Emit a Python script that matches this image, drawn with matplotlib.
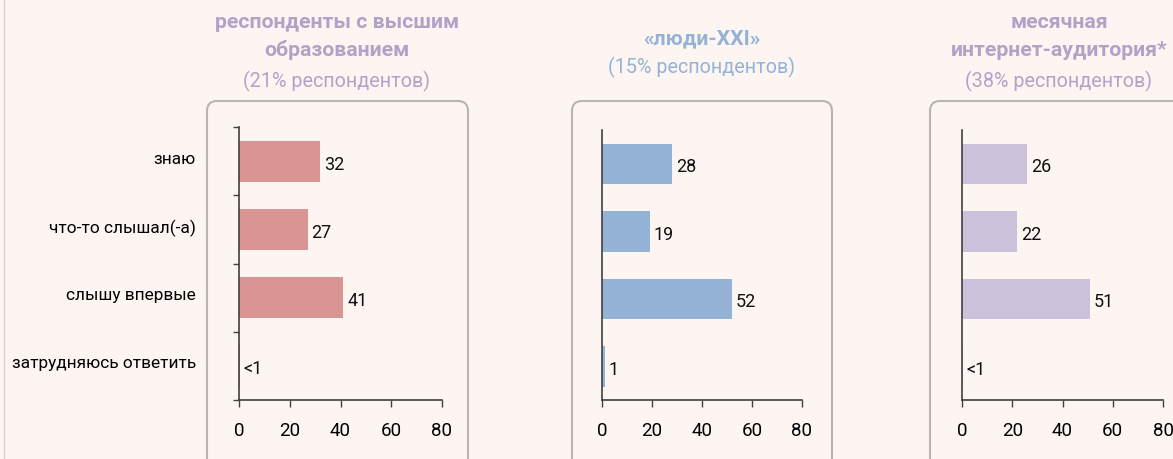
import matplotlib.pyplot as plt
from matplotlib.patches import FancyBboxPatch

plt.rcParams['font.family'] = ['Roboto', 'DejaVu Sans']

categories = ["знаю", "что-то слышал(-а)", "слышу впервые", "затрудняюсь ответить"]

higher_edu = [32, 27, 41, 0.3]
higher_edu_labels = ["32", "27", "41", "<1"]

people_xxi = [28, 19, 52, 1]
people_xxi_labels = ["28", "19", "52", "1"]

internet = [26, 22, 51, 0.3]
internet_labels = ["26", "22", "51", "<1"]

titles = ["респонденты с высшим\nобразованием", "«люди-XXI»", "месячная\nинтернет-аудитория*"]
subtitles = ["(21% респондентов)", "(15% респондентов)", "(38% респондентов)"]
xticks = [0, 20, 40, 60, 80]

W, H = 1173, 459
bg = "#fdf5f2"
bar_colors = ["#d99594", "#95b3d7", "#ccc1da"]
title_colors = ["#b3a2c7", "#95b3d7", "#b3a2c7"]

fig = plt.figure(figsize=(W / 100, H / 100), dpi=100)
fig.patch.set_facecolor(bg)

# background layer in pixel coordinates
bgax = fig.add_axes([0, 0, 1, 1], zorder=0)
bgax.set_xlim(0, W)
bgax.set_ylim(H, 0)
bgax.axis("off")
bgax.plot([4, 4], [0, H], color="#d8d0d0", lw=1)

# (box_left, box_right, axes_left, axes_right, axes_top, title_center)
panels = [
    (207, 468, 239, 442, 127, 337),
    (572, 832, 602, 802, 130, 702),
    (930, 1190, 962, 1163, 130, 1059),
]
axes_bottom = 400

data = [(higher_edu, higher_edu_labels), (people_xxi, people_xxi_labels), (internet, internet_labels)]

for i, (bl, br, al, ar, at, tc) in enumerate(panels):
    box = FancyBboxPatch((bl, 101), br - bl, 380, boxstyle="round,pad=0,rounding_size=10",
                         fc="none", ec="#b8b4b4", lw=1.5)
    bgax.add_patch(box)

    nlines = titles[i].count("\n") + 1
    if nlines == 2:
        first, second = titles[i].split("\n")
        bgax.text(tc, 23, first, ha="center", va="center", fontsize=15.3,
                  fontweight="bold", color=title_colors[i])
        bgax.text(tc, 50, second, ha="center", va="center", fontsize=15.3,
                  fontweight="bold", color=title_colors[i])
        bgax.text(tc, 81, subtitles[i], ha="center", va="center", fontsize=14.2,
                  color=title_colors[i])
    else:
        bgax.text(tc, 39, titles[i], ha="center", va="center", fontsize=15.3,
                  fontweight="bold", color=title_colors[i])
        bgax.text(tc, 67, subtitles[i], ha="center", va="center", fontsize=14.2,
                  color=title_colors[i])

    ax = fig.add_axes([al / W, (H - axes_bottom) / H, (ar - al) / W, (axes_bottom - at) / H], zorder=1)
    ax.patch.set_alpha(0)
    vals, labs = data[i]
    y = range(len(categories))
    ax.barh(y, vals, height=0.6, color=bar_colors[i])
    for yi, v, lab in zip(y, vals, labs):
        ax.text(v + 1.6, yi + 0.05, lab, va="center", ha="left", fontsize=13, color="#111111")
    ax.set_xlim(0, 80)
    ax.set_ylim(len(categories) - 0.5, -0.5)
    ax.set_xticks(xticks)
    ax.tick_params(axis="x", labelsize=13.5, length=5, width=1, color="#404040", pad=11)
    for s in ["top", "right"]:
        ax.spines[s].set_visible(False)
    for s in ["left", "bottom"]:
        ax.spines[s].set_color("#404040")
        ax.spines[s].set_linewidth(1.2)
    if i == 0:
        ax.set_yticks([yy - 0.05 for yy in y])
        ax.set_yticklabels(categories, fontsize=12.4)
        ax.tick_params(axis="y", which="major", length=0, pad=31)
        ax.set_yticks([-0.5, 0.5, 1.5, 2.5, 3.5], minor=True)
        ax.tick_params(axis="y", which="minor", length=4, width=1, color="#404040")
    else:
        ax.set_yticks([])

fig.savefig("out.png", dpi=100, facecolor=bg)
